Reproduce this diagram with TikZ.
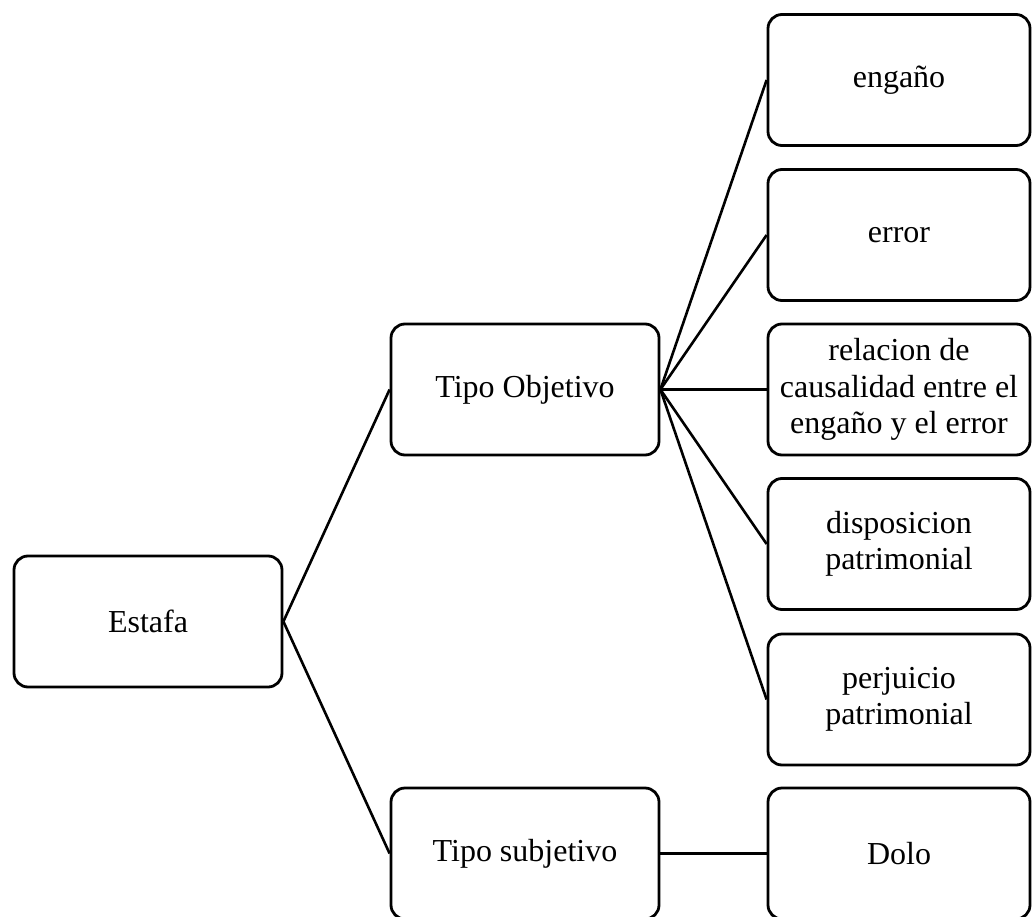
\documentclass[tikz,border=0pt]{standalone}
\usepackage{fontspec}
\setmainfont{Liberation Serif}
\begin{document}
\begin{tikzpicture}[x=1pt,y=-1pt,
  box/.style={draw=black, line width=2.8pt, rounded corners=14pt, minimum height=131pt,
    align=center, inner sep=0pt, font=\fontsize{32}{36.5}\selectfont},
  leftbox/.style={box, minimum width=268pt},
  rightbox/.style={box, minimum width=262pt},
  link/.style={line width=2.6pt}]
\useasboundingbox (0,0) rectangle (1032,917);
\clip (0,0) rectangle (1032,917);
\fill[white] (0,0) rectangle (1032,917);
\node[leftbox] (estafa) at (148,621.5) {Estafa};
\node[leftbox] (obj) at (525,389.5) {Tipo Objetivo};
\node[leftbox] (subj) at (525,853.5) {Tipo subjetivo};
\node[rightbox] (engano) at (899,80) {engaño};
\node[rightbox] (error) at (899,235) {error};
\node[rightbox] (rel) at (899,389.5) {relacion de\\causalidad entre el\\engaño y el error};
\node[rightbox] (disp) at (899,544) {disposicion\\patrimonial};
\node[rightbox] (perj) at (899,699.5) {perjuicio\\patrimonial};
\node[rightbox] (dolo) at (899,853.5) {Dolo};
\draw[link] (estafa.east) -- (obj.west);
\draw[link] (estafa.east) -- (subj.west);
\foreach \t in {engano,error,rel,disp,perj}
  \draw[link] (obj.east) -- (\t.west);
\draw[link] (subj.east) -- (dolo.west);
\end{tikzpicture}
\end{document}
